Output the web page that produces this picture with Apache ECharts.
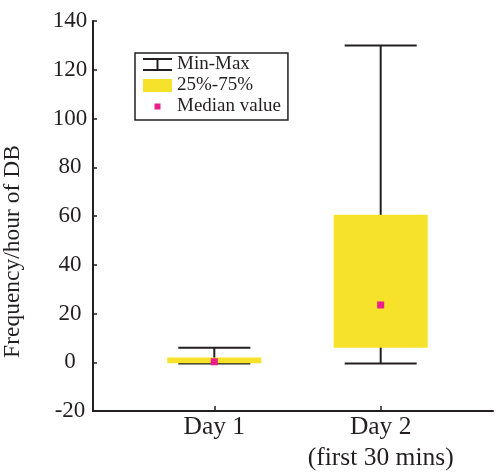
<!DOCTYPE html>
<html>
<head>
<meta charset="utf-8">
<script src="https://cdn.jsdelivr.net/npm/echarts@6/dist/echarts.min.js"></script>
<style>
  html, body { margin: 0; padding: 0; background: #fff; }
  #chart { width: 496px; height: 472px; }
</style>
</head>
<body>
<div id="chart"></div>
<script>
// data
const categories = ['Day 1', 'Day 2\n(first 30 mins)'];
const xPos = [1, 2];
const minVals = [-0.5, -0.5];
const q1Vals = [-0.4, 6];
const medianVals = [0.2, 23.5];
const q3Vals = [2, 60.5];
const maxVals = [6, 130];
const yTicks = { min: -20, max: 140, step: 20 };

const ink = '#231f20';
const yellow = '#f7e22b';
const pink = '#ea1e8c';
const font = 'Liberation Serif';

const whiskerData = xPos.map((x, i) => [x, minVals[i], maxVals[i]]);
const boxData = xPos.map((x, i) => [x, q1Vals[i], q3Vals[i]]);
const medianData = xPos.map((x, i) => [x, medianVals[i]]);

const chart = echarts.init(document.getElementById('chart'));

const option = {
  animation: false,
  textStyle: { fontFamily: font },
  grid: {
    left: 93, right: 3, top: 21, bottom: 61,
    outerBounds: { left: -100, right: -100, top: -100, bottom: -100 }
  },
  legend: {
    orient: 'vertical',
    left: 135,
    top: 53,
    padding: [2, 7, 4, 8],
    itemGap: 2,
    itemWidth: 29,
    itemHeight: 13,
    itemTextGap: 10,
    borderColor: ink,
    borderWidth: 1.5,
    selectedMode: false,
    textStyle: { fontFamily: font, fontSize: 19, color: ink, lineHeight: 19 },
    data: [
      { name: 'Min-Max', icon: 'path://M0 0H29V2H0Z M13.5 2H15.5V11H13.5Z M0 11H29V13H0Z', itemStyle: { color: ink } },
      { name: '25%-75%', icon: 'rect', itemStyle: { color: yellow } },
      { name: 'Median value', icon: 'path://M0 0 M29 13 M11.5 3.5H17.5V9.5H11.5Z', itemStyle: { color: pink } }
    ]
  },
  xAxis: {
    type: 'value',
    min: 0.271,
    max: 2.675,
    splitLine: { show: false },
    axisLine: { onZero: false, lineStyle: { color: ink, width: 2 } },
    axisTick: { customValues: xPos, inside: true, length: 5, lineStyle: { color: ink, width: 1.5 } },
    axisLabel: {
      customValues: xPos,
      formatter: v => categories[xPos.indexOf(Math.round(v))] || '',
      fontFamily: font, fontSize: 25.5, color: ink, lineHeight: 31, margin: 1
    }
  },
  yAxis: {
    type: 'value',
    min: yTicks.min,
    max: yTicks.max,
    interval: yTicks.step,
    name: 'Frequency/hour of DB',
    nameLocation: 'middle',
    nameGap: 68,
    nameTextStyle: { fontFamily: font, fontSize: 23.5, color: ink, padding: [0, 71, 0, 0] },
    splitLine: { show: false },
    axisLine: { show: true, lineStyle: { color: ink, width: 2 } },
    axisTick: { inside: true, length: 4, lineStyle: { color: ink, width: 1.5 } },
    axisLabel: {
      fontFamily: font, fontSize: 23, color: ink, align: 'center', margin: 23,
      formatter: v => '{t|' + v + '}',
      rich: { t: { fontFamily: font, fontSize: 23, color: ink, align: 'center' } }
    }
  },
  series: [
    {
      name: 'Min-Max',
      type: 'custom',
      itemStyle: { color: ink },
      encode: { x: 0, y: [1, 2] },
      data: whiskerData,
      renderItem: function (params, api) {
        const x = api.value(0);
        const lo = api.coord([x, api.value(1)]);
        const hi = api.coord([x, api.value(2)]);
        const half = api.size([0.433, 0])[0] / 2;
        const st = { stroke: ink, lineWidth: 2 };
        return {
          type: 'group',
          children: [
            { type: 'line', shape: { x1: hi[0], y1: hi[1], x2: lo[0], y2: lo[1] }, style: st },
            { type: 'line', shape: { x1: hi[0] - half, y1: hi[1], x2: hi[0] + half, y2: hi[1] }, style: st },
            { type: 'line', shape: { x1: lo[0] - half, y1: lo[1], x2: lo[0] + half, y2: lo[1] }, style: st }
          ]
        };
      }
    },
    {
      name: '25%-75%',
      type: 'custom',
      itemStyle: { color: yellow },
      encode: { x: 0, y: [1, 2] },
      data: boxData,
      renderItem: function (params, api) {
        const x = api.value(0);
        const lo = api.coord([x, api.value(1)]);
        const hi = api.coord([x, api.value(2)]);
        const w = api.size([0.565, 0])[0];
        return {
          type: 'rect',
          shape: { x: hi[0] - w / 2, y: hi[1], width: w, height: lo[1] - hi[1] },
          style: { fill: yellow }
        };
      }
    },
    {
      name: 'Median value',
      type: 'scatter',
      symbol: 'rect',
      symbolSize: 7,
      itemStyle: { color: pink, opacity: 1 },
      data: medianData
    }
  ]
};

chart.setOption(option);
</script>
</body>
</html>
